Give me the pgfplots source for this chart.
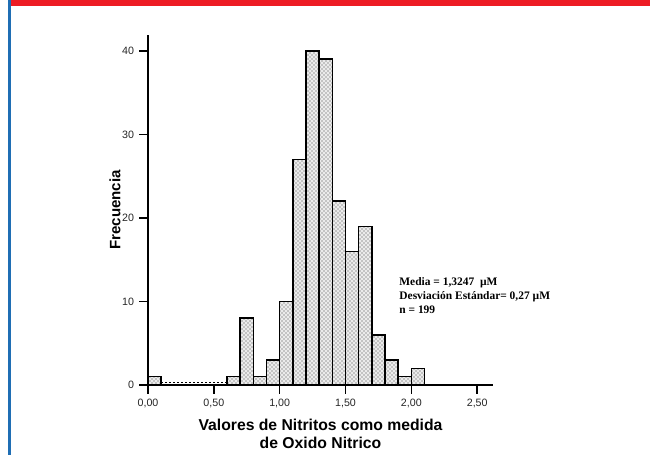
\documentclass[border=0pt]{standalone}
\usepackage{pgfplots}
\pgfplotsset{compat=1.18}
\usepackage{fontspec}
\setmainfont{Liberation Sans}
\newfontfamily\serifbold{Liberation Serif}
\usetikzlibrary{patterns}
\definecolor{framered}{RGB}{237,28,36}
\definecolor{frameblue}{RGB}{31,110,180}
\pgfplotsset{histbar/.style={ybar interval, draw=black, line width=1.1pt, fill=black!8,
  postaction={pattern=crosshatch dots, pattern color=black!75}}}
\begin{document}
\begin{tikzpicture}
\path[use as bounding box] (0pt,0pt) rectangle (487.5pt,341.25pt);
\fill[white] (0pt,0pt) rectangle (487.5pt,341.25pt);
\fill[framered] (6.75pt,336.75pt) rectangle (487.5pt,341.25pt);
\fill[frameblue] (6pt,0pt) rectangle (8.25pt,341.25pt);
\begin{axis}[
  at={(111pt,52.5pt)}, anchor=south west,
  scale only axis, width=258.75pt, height=262.5pt,
  xmin=0, xmax=2.62, ymin=0, ymax=41.9,
  axis x line=bottom, axis y line=left,
  axis line style={-, line width=1.2pt, black},
  every tick/.style={draw=none},
  tick align=outside, major tick length=7pt,
  xtick={0,0.5,1,1.5,2,2.5},
  xticklabels={{0,00},{0,50},{1,00},{1,50},{2,00},{2,50}},
  ytick={0,10,20,30,40},
  yticklabels={0,10,20,30,40},
  ticklabel style={font=\fontsize{8}{9.5}\selectfont, text=black!85},
  xlabel={Valores de Nitritos como medida\\de Oxido Nitrico},
  xlabel style={font=\fontsize{11.8}{13.5}\selectfont\bfseries, align=center,
    at={(axis description cs:0.5,-0.083)}, anchor=north},
  ylabel={Frecuencia},
  ylabel style={font=\fontsize{11.3}{13}\selectfont\bfseries,
    at={(axis description cs:-0.096,0.5)}, anchor=center},
  clip=false,
]
\addplot[histbar] coordinates {(0,1)(0.1,1)};
\addplot[histbar] coordinates {(0.6,1)(0.7,8)(0.8,1)(0.9,3)(1.0,10)(1.1,27)(1.2,40)(1.3,39)(1.4,22)(1.5,16)(1.6,19)(1.7,6)(1.8,3)(1.9,1)(2.0,2)(2.1,2)};
\addplot[black, dotted, line width=1pt] coordinates {(0.1,0.3)(0.6,0.3)};
\draw[line width=1.2pt] (axis cs:0,0) -- ++(0,-7pt);
\draw[line width=1.2pt] (axis cs:0.5,0) -- ++(0,-7pt);
\draw[line width=1.2pt] (axis cs:1,0) -- ++(0,-7pt);
\draw[line width=1.2pt] (axis cs:1.5,0) -- ++(0,-7pt);
\draw[line width=1.2pt] (axis cs:2,0) -- ++(0,-7pt);
\draw[line width=1.2pt] (axis cs:2.5,0) -- ++(0,-7pt);
\draw[line width=1.2pt] (axis cs:0,0) -- ++(-7pt,0);
\draw[line width=1.2pt] (axis cs:0,10) -- ++(-7pt,0);
\draw[line width=1.2pt] (axis cs:0,20) -- ++(-7pt,0);
\draw[line width=1.2pt] (axis cs:0,30) -- ++(-7pt,0);
\draw[line width=1.2pt] (axis cs:0,40) -- ++(-7pt,0);
\node[anchor=west, inner sep=0pt, font=\serifbold\bfseries\fontsize{8.6}{10}\selectfont] at (axis cs:1.907,12.3) {Media = 1,3247~ µM};
\node[anchor=west, inner sep=0pt, font=\serifbold\bfseries\fontsize{8.6}{10}\selectfont] at (axis cs:1.907,10.55) {Desviación Estándar= 0,27 µM};
\node[anchor=west, inner sep=0pt, font=\serifbold\bfseries\fontsize{8.6}{10}\selectfont] at (axis cs:1.907,8.95) {n = 199};
\end{axis}
\end{tikzpicture}
\end{document}
